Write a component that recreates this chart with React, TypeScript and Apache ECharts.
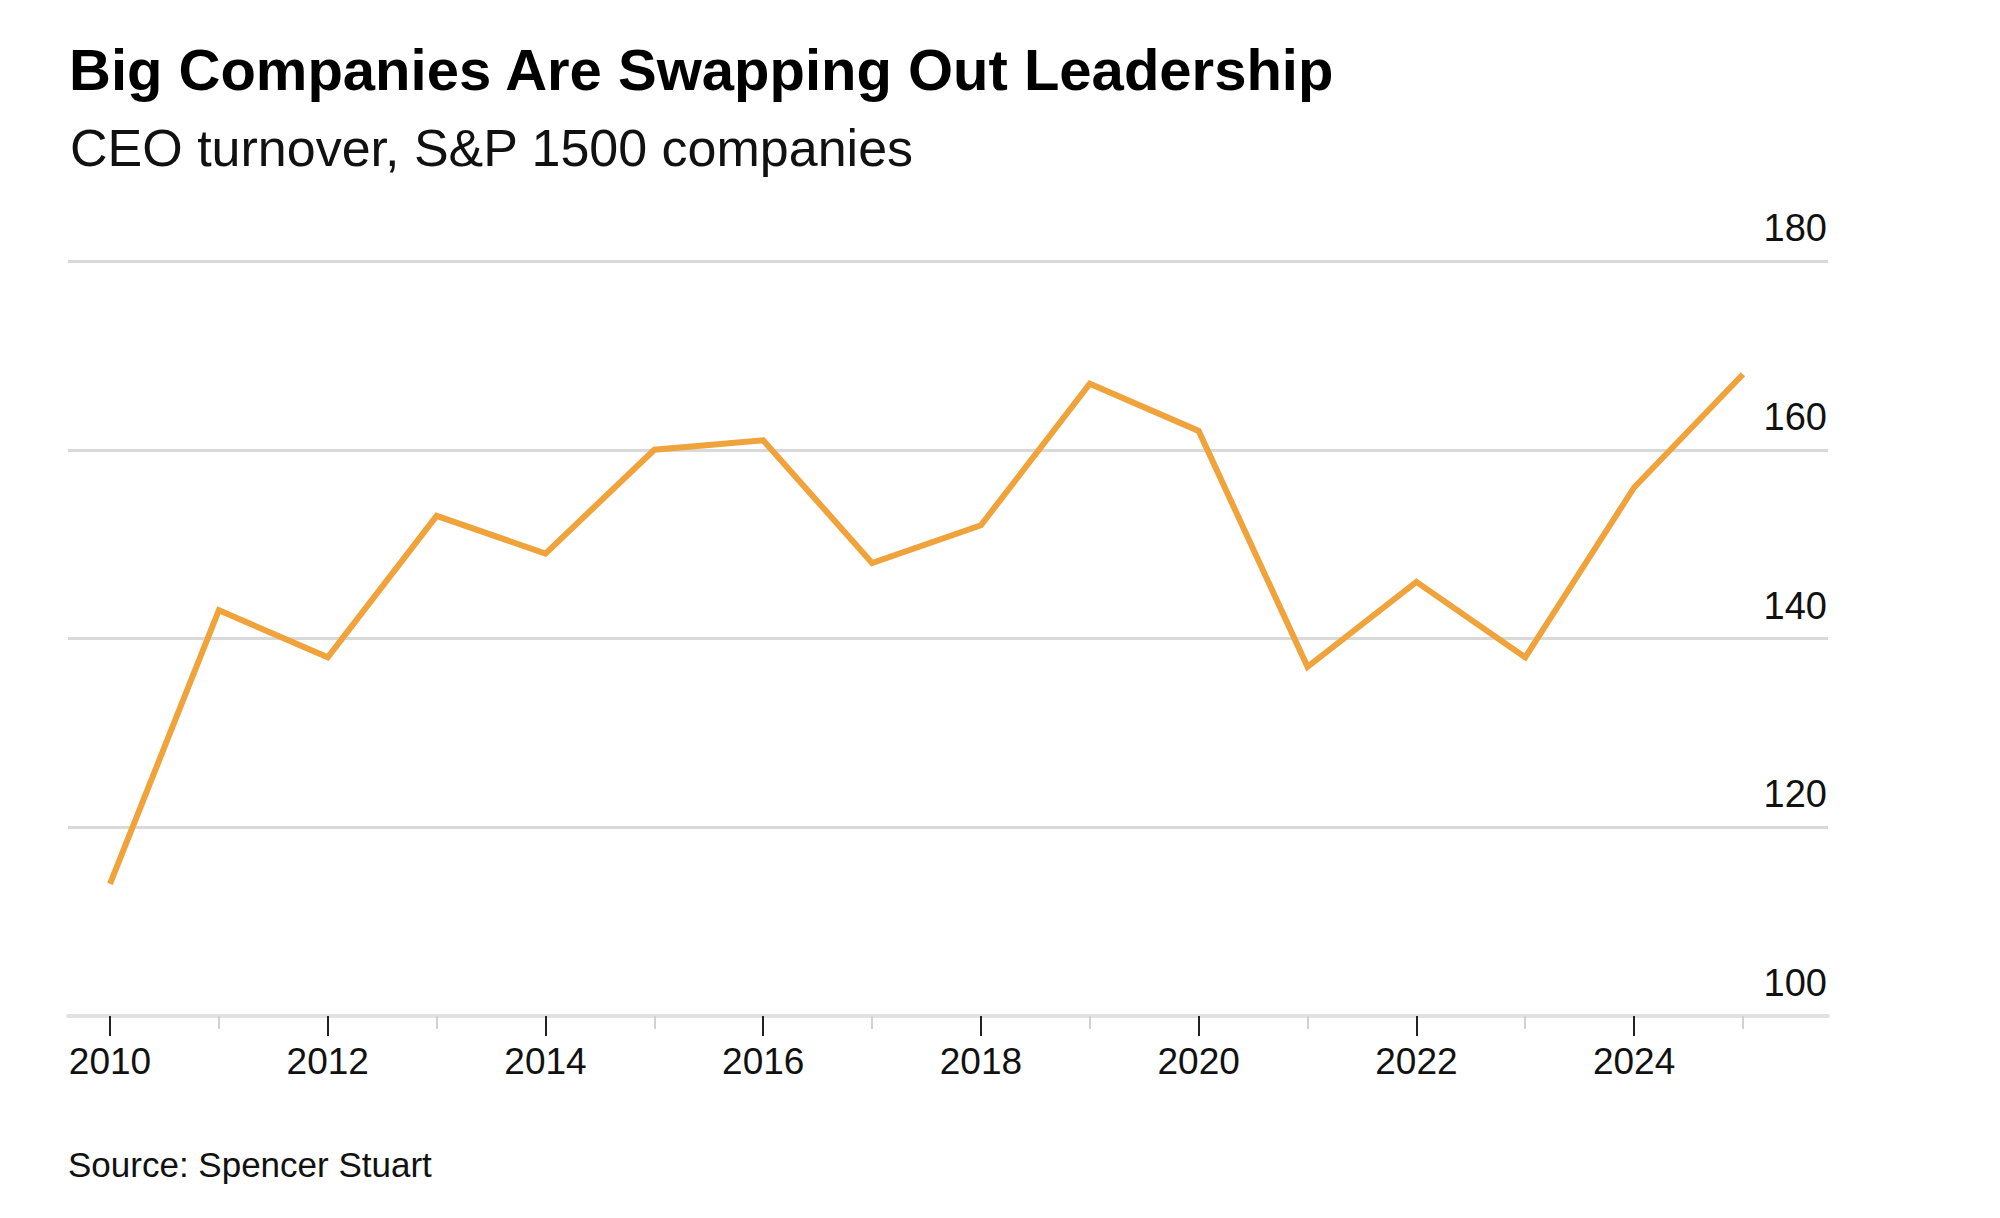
import React, { useEffect, useRef } from "react";
import * as echarts from "echarts";

const years = [2010, 2011, 2012, 2013, 2014, 2015, 2016, 2017, 2018, 2019, 2020, 2021, 2022, 2023, 2024, 2025];
const turnover = [114, 143, 138, 153, 149, 160, 161, 148, 152, 167, 162, 137, 146, 138, 156, 168];
const majorYears = [2010, 2012, 2014, 2016, 2018, 2020, 2022, 2024];
const minorYears = [2011, 2013, 2015, 2017, 2019, 2021, 2023, 2025];

const titleText = "Big Companies Are Swapping Out Leadership";
const subtitleText = "CEO turnover, S&P 1500 companies";
const sourceText = "Source: Spencer Stuart";

const FONT = "'Liberation Sans', Arial, Helvetica, sans-serif";

export default function App() {
  const ref = useRef<HTMLDivElement>(null);

  useEffect(() => {
    document.body.style.margin = "0";
    if (!ref.current) return;
    const chart = echarts.init(ref.current, undefined, { renderer: "svg" });
    const option: any = {
      animation: false,
      backgroundColor: "#ffffff",
      textStyle: { fontFamily: FONT },
      grid: { left: 68, right: 172, top: 261, bottom: 202, containLabel: false },
      graphic: [
        {
          type: "text",
          left: 69,
          top: 40,
          style: {
            text: titleText,
            font: `bold 58px ${FONT}`,
            fill: "#000000",
          },
        },
        {
          type: "text",
          left: 70,
          top: 122,
          style: {
            text: subtitleText,
            font: `52px ${FONT}`,
            fill: "#111111",
          },
        },
        {
          type: "text",
          left: 68,
          top: 1147,
          style: {
            text: sourceText,
            font: `35px ${FONT}`,
            fill: "#111111",
          },
        },
      ],
      xAxis: [
        {
          type: "value",
          min: 2009.614,
          max: 2025.781,
          position: "bottom",
          axisLine: { show: true, onZero: false, lineStyle: { color: "#e2e2e2", width: 4 } },
          splitLine: { show: false },
          axisTick: {
            show: true,
            customValues: majorYears,
            length: 20,
            lineStyle: { color: "#222222", width: 2 },
          },
          axisLabel: {
            show: true,
            customValues: majorYears,
            margin: 27,
            fontSize: 37,
            lineHeight: 37,
            color: "#111111",
            fontFamily: FONT,
            formatter: (v: number) => String(Math.round(v)),
          },
        },
        {
          type: "value",
          min: 2009.614,
          max: 2025.781,
          position: "bottom",
          axisLine: { show: false },
          splitLine: { show: false },
          axisTick: {
            show: true,
            customValues: minorYears,
            length: 13,
            lineStyle: { color: "#d2d2d2", width: 2 },
          },
          axisLabel: { show: false },
        },
      ],
      yAxis: {
        type: "value",
        min: 100,
        max: 180,
        interval: 20,
        position: "right",
        axisLine: { show: false },
        axisTick: { show: false },
        splitLine: { show: true, lineStyle: { color: "#d9d9d9", width: 3 } },
        axisLabel: {
          inside: true,
          margin: 1,
          align: "right",
          verticalAlign: "bottom",
          fontSize: 38,
          lineHeight: 38,
          padding: [0, 0, 14, 0],
          color: "#111111",
          fontFamily: FONT,
        },
      },
      series: [
        {
          type: "line",
          xAxisIndex: 0,
          data: years.map((y, i) => [y, turnover[i]]),
          symbol: "none",
          lineStyle: { color: "#F0A23B", width: 6, join: "miter", cap: "butt" },
          z: 5,
        },
      ],
    };
    chart.setOption(option);
    return () => chart.dispose();
  }, []);

  return (
    <div
      ref={ref}
      style={{ position: "absolute", left: 0, top: 0, width: 2000, height: 1218, background: "#fff" }}
    />
  );
}
